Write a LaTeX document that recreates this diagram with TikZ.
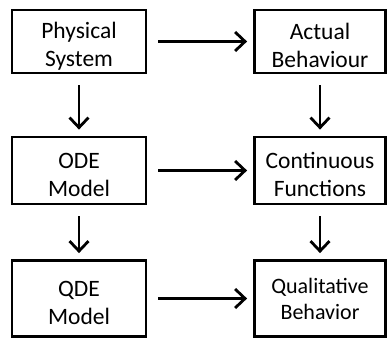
\documentclass[tikz,border=0pt]{standalone}
\usepackage{fontspec}
\setmainfont{Carlito}
\usetikzlibrary{arrows.meta}
\newcommand{\hautligne}{\rule{0pt}{25pt}}
\begin{document}
\begin{tikzpicture}[
      node distance=129pt,
      boite/.style={
        draw,
        line width=2.8pt,
        rectangle,
        minimum width=134pt,
        inner ysep=0pt,
        align=center,
        font=\fontsize{23.5}{28}\selectfont
      },
      fleche/.style={
        line width=2.8pt,
        -{Straight Barb[length=10pt,width=19pt]},
        shorten <=11pt,
        shorten >=6pt
      }
    ]
    \useasboundingbox (0,0) rectangle (387pt,-339pt);
    \node[boite, minimum height=63pt] (phys) at (79pt,-41.5pt) {\hautligne Physical\\System} ;
    \node[boite, minimum height=67pt, below of=phys] (ode) {\hautligne ODE\\Model} ;
    \node[boite, minimum height=76pt, below of=ode, yshift=1pt] (qde) {\hautligne QDE\\Model} ;
    \node[boite, minimum height=63pt, minimum width=131pt, right of=phys, node distance=241pt] (act) {\hautligne Actual\\Behaviour} ;
    \node[boite, minimum height=67pt, minimum width=131pt, right of=ode, node distance=241pt] (cont) {\hautligne Continuous\\Functions} ;
    \node[boite, minimum height=76pt, minimum width=131pt, right of=qde, node distance=241pt,
      font=\fontsize{22}{26}\selectfont] (qual) {Qualitative\\Behavior} ;

    \draw[fleche] (phys) -- (act) ;
    \draw[fleche] (ode) -- (cont) ;
    \draw[fleche] (qde) -- (qual) ;
    \draw[fleche] (phys) -- (ode) ;
    \draw[fleche] (ode) -- (qde) ;
    \draw[fleche] (act) -- (cont) ;
    \draw[fleche] (cont) -- (qual) ;

  \end{tikzpicture}
\end{document}
